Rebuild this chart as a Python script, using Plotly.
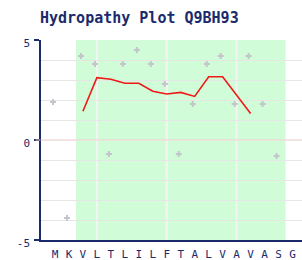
import plotly.graph_objects as go

# ---- data ----
residues = ["M", "K", "V", "L", "T", "L", "I", "L", "F", "T", "A", "L", "V", "A", "V", "A", "S", "G"]
point_values = [1.9, -3.9, 4.2, 3.8, -0.7, 3.8, 4.5, 3.8, 2.8, -0.7, 1.8, 3.8, 4.2, 1.8, 4.2, 1.8, -0.8]
line_start = 3
line_values = [1.44, 3.12, 3.04, 2.84, 2.84, 2.44, 2.30, 2.38, 2.18, 3.16, 3.16, 2.24, 1.32]
tm_start, tm_end = 3, 17
grid_x = [4, 9, 14]
y_ticks = [5, 0, -5]
title_text = "Hydropathy Plot Q9BH93"

NAVY = "#1b2a6b"
GRID = "#e6e6e6"
GREEN = "#d0fdd8"

res_x = list(range(1, len(residues) + 1))
pt_x = [i - 0.14 for i in range(1, len(point_values) + 1)]
ln_x = list(range(line_start, line_start + len(line_values)))

fig = go.Figure()
fig.add_trace(go.Scatter(
    x=pt_x, y=point_values, mode="markers",
    marker=dict(symbol="cross", size=5, color="#c4c4cc", line=dict(width=0)),
    hoverinfo="skip", showlegend=False))
fig.add_trace(go.Scatter(
    x=ln_x, y=line_values, mode="lines",
    line=dict(color="#f01818", width=1.6),
    hoverinfo="skip", showlegend=False))

shapes = [dict(type="rect", xref="x", yref="paper", x0=tm_start - 0.5, x1=tm_end + 0.5,
               y0=0, y1=1, fillcolor=GREEN, line=dict(width=0), layer="below")]
for gx in grid_x:
    shapes.append(dict(type="line", xref="x", yref="paper", x0=gx, x1=gx, y0=0, y1=1,
                       line=dict(color="#f4f4f4", width=2), layer="between"))
# zero line (extends slightly left of the axis)
shapes.append(dict(type="line", xref="paper", yref="y", x0=0, x1=1, y0=0, y1=0,
                   line=dict(color="#ffc4c4", width=1), layer="between"))
shapes.append(dict(type="line", xref="paper", yref="y", x0=-0.021, x1=-0.002, y0=0, y1=0,
                   line=dict(color="#ffc4c4", width=1), layer="above"))
fig.update_layout(shapes=shapes)

fig.update_layout(
    width=302, height=260,
    margin=dict(l=40.5, r=0, t=40, b=20),
    paper_bgcolor="white", plot_bgcolor="white",
    title=dict(text=title_text, x=40 / 302, xanchor="left", xref="container",
               y=1 - 18 / 260, yanchor="middle",
               font=dict(family="DejaVu Sans Mono", size=15, color=NAVY, weight="bold")),
    font=dict(family="DejaVu Sans Mono", size=11, color=NAVY),
    xaxis=dict(range=[0, 18.68], tickvals=res_x, ticktext=residues, showgrid=False,
               zeroline=False, showline=True, linecolor=NAVY, linewidth=1.5,
               ticks="", tickfont=dict(size=11, color=NAVY), ticklabelstandoff=3),
    yaxis=dict(range=[-5, 5], tickvals=y_ticks, ticktext=[str(v) for v in y_ticks],
               showgrid=False, zeroline=False, showline=True, linecolor=NAVY, linewidth=1.5,
               ticks="outside", ticklen=5, tickcolor=NAVY, tickwidth=1.5,
               tickfont=dict(size=11, color=NAVY), ticklabelshift=3, ticklabelstandoff=2),
)
# horizontal grid lines every unit via an overlaid y axis
fig.update_layout(yaxis2=dict(overlaying="y", range=[-5, 5], dtick=1, showgrid=True,
                              gridcolor=GRID, gridwidth=1, showticklabels=False,
                              zeroline=False, showline=False, ticks=""))
fig.add_trace(go.Scatter(x=[None], y=[None], yaxis="y2", showlegend=False, hoverinfo="skip"))

fig.write_html("out.html")
